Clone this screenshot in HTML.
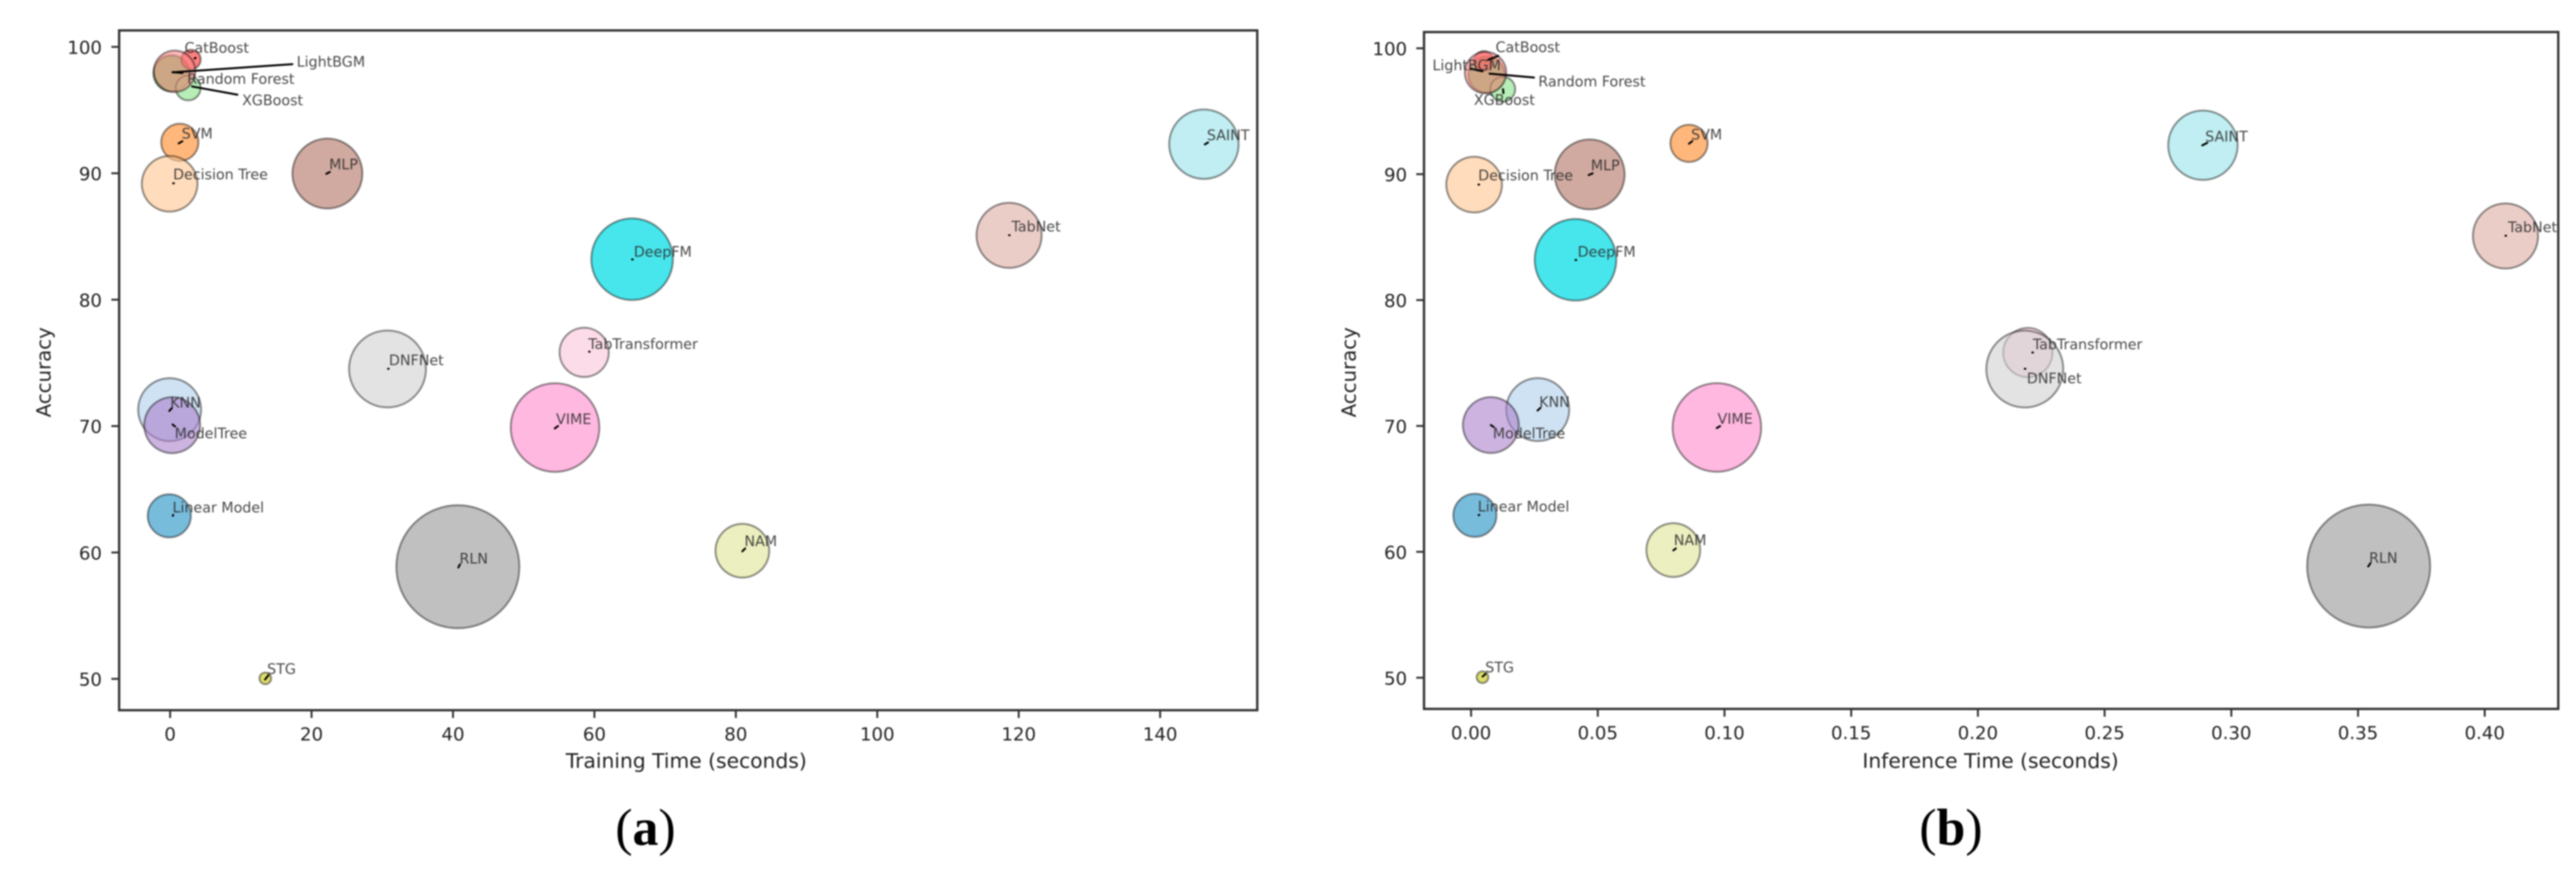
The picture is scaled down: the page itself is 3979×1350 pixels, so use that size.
<!DOCTYPE html>
<html lang="en">
<head>
<meta charset="utf-8">
<title>Accuracy vs training and inference time</title>
<style>
html,body{margin:0;padding:0;background:#fff;width:3979px;height:1350px;overflow:hidden}
svg{display:block;filter:blur(1.1px)}
text{font-family:"DejaVu Sans","Liberation Sans",sans-serif}
.caption{font-family:"Liberation Serif",serif;font-size:80px;fill:#000;text-anchor:middle}
</style>
</head>
<body>
<svg id="figure" xmlns="http://www.w3.org/2000/svg" width="3979" height="1350" viewBox="0 0 3979 1350">
<rect width="3979" height="1350" fill="#fff"/>
<g id="panel-a"></g>
<g id="panel-b"></g>
<text class="caption" x="997" y="1305">(<tspan font-weight="bold">a</tspan>)</text>
<text class="caption" x="3013.5" y="1305">(<tspan font-weight="bold">b</tspan>)</text>
</svg>
<script>
const models = ["Linear Model","KNN","SVM","Decision Tree","Random Forest","XGBoost","CatBoost","LightBGM","ModelTree","MLP","TabNet","VIME","TabTransformer","RLN","DNFNet","STG","NAM","DeepFM","SAINT"];
const accuracy = [62.9,71.3,92.45,89.17,97.9,96.75,99,98.07,70.07,89.98,85.09,69.88,75.83,58.87,74.52,50.04,60.14,83.2,92.3];
const trainingTime = [-0.12,-0.07,1.37,-0.07,0.2,2.55,2.95,0.63,0.29,22.24,118.64,54.43,58.55,40.69,30.74,13.46,80.92,65.33,146.19];
const inferenceTime = [0.0015,0.0263,0.086,0.0012,0.0061,0.0125,0.005,0.0057,0.0078,0.0468,0.4082,0.097,0.2197,0.3542,0.2185,0.0045,0.0798,0.0412,0.2888];
const bubbleSizes = [1109,2362,824,1849,784,369,225,1024,1866,2916,2530,4679,1444,9025,3528,81,1722,3969,2873];
const yTicks = [50,60,70,80,90,100];
const yTickLabels = ["50","60","70","80","90","100"];
const trainingTicks = [0,20,40,60,80,100,120,140];
const trainingTickLabels = ["0","20","40","60","80","100","120","140"];
const inferenceTicks = [0,0.05,0.1,0.15,0.2,0.25,0.3,0.35,0.4];
const inferenceTickLabels = ["0.00","0.05","0.10","0.15","0.20","0.25","0.30","0.35","0.40"];

const bubbleColors = ["rgba(30,143,197,0.6)","rgba(175,207,235,0.6)","rgba(255,135,35,0.6)","rgba(255,197,142,0.6)","rgba(44,180,44,0.6)","rgba(135,225,135,0.6)","rgba(255,43,43,0.6)","rgba(255,137,137,0.6)","rgba(170,128,203,0.6)","rgba(177,113,97,0.6)","rgba(222,172,164,0.6)","rgba(255,137,203,0.6)","rgba(250,197,217,0.6)","rgba(150,150,150,0.6)","rgba(208,208,208,0.6)","rgba(200,200,13,0.6)","rgba(223,228,148,0.6)","rgba(0,220,228,0.72)","rgba(150,227,233,0.6)"];

const labelOffsetsA = [[5,-5.4],[0.8,-3],[2.9,-5.7],[5.3,-6.7],[24.3,16.3],[83.3,26.7],[-10,-10.6],[188.6,-7.3],[3.8,20.4],[2.6,-6.6],[3.8,-5.9],[1.6,-5.6],[6.4,-5.4],[2.5,-5],[2.2,-5.9],[2.8,-6.9],[3.2,-6.9],[2.6,-3.9],[4.6,-6.2]];
const labelOffsetsB = [[4.5,-6],[2.3,-4],[3.2,-5.9],[6.3,-6.7],[80,18.3],[-44.6,24.3],[18.3,-13.3],[-82,-3.7],[3,20.5],[1.8,-6.3],[3.8,-6.1],[1,-5.6],[7.7,-4.9],[0.6,-4.9],[3.2,22.2],[4.2,-7.4],[0.7,-7.5],[3.3,-4.8],[3.5,-6]];
const leaderOffsetsA = [[5.5,0,6,-1.5],[-0.5,2,3.3,-2.2],[-1.8,1.7,3.9,-1.7],[5.5,-0.7,6.5,-0.7],[1.7,-2,16.7,-0.7],[6,-2.3,76,10.4],[5.7,-1.6,7,-2.6],[-3,1.7,182,-11],[0.6,-1,4.4,2],[-1.7,0.4,3.6,-2.3],[0,-0.3,0.8,-0.3],[-0.4,1.3,4.6,-2.4],[7.6,-1,8.4,-1],[0.7,1.1,3.2,-3.7],[0.9,-0.2,1.7,-0.2],[-0.4,1.7,4.7,-4.7],[0,0.9,4.3,-3.4],[0,0.3,1,0.3],[1.4,0.3,6.4,-2.7]];
const leaderOffsetsB = [[5.8,-0.2,6.8,-0.8],[-0.3,1.5,4.2,-2.7],[0,0.6,5,-3.4],[6.7,0,7.7,0],[4.7,-1.7,73.3,4.3],[0.4,0,1,6],[6.6,-1.7,22.3,-7.7],[-23,-6,-4.7,-2],[0,0,4.4,3],[-1.5,1,4.5,-1.7],[0,-0.4,0.9,-0.4],[-0.2,0.9,4.9,-2.1],[7,-0.1,8,-0.1],[-0.7,0.6,2.5,-4.1],[0,-0.4,1,-0.4],[0.2,-1,4.8,-5.2],[0,0.5,3.9,-2.5],[0.1,0.4,1.1,0.4],[-1,0.2,6.7,-3.7]];

const SVG_NS = "http://www.w3.org/2000/svg";
function linearScale(d0, d1, r0, r1) {
  return function (v) { return r0 + (v - d0) * (r1 - r0) / (d1 - d0); };
}
function radiusOf(size) { return Math.sqrt(size); }
function slug(s) { return s.toLowerCase().replace(/[^a-z0-9]+/g, "-"); }
function make(tag, parent, attrs) {
  const el = document.createElementNS(SVG_NS, tag);
  for (const k in attrs) el.setAttribute(k, attrs[k]);
  parent.appendChild(el);
  return el;
}

function drawPanel(p) {
  const root = document.getElementById(p.id);
  const xScale = linearScale(p.xDomain[0], p.xDomain[1], p.xRange[0], p.xRange[1]);
  const yScale = linearScale(50, 100, p.yRange[0], p.yRange[1]);

  p.xValues.forEach(function (xv, i) {
    const c = make("circle", root, {cx: xScale(xv), cy: yScale(accuracy[i]), r: radiusOf(bubbleSizes[i]), fill: bubbleColors[i], stroke: "#000", "stroke-opacity": 0.42, "stroke-width": 3});
    
    
  });

  p.xValues.forEach(function (xv, i) {
    const o = p.leaders[i];
    const cx = xScale(xv), cy = yScale(accuracy[i]);
    const l = make("line", root, {x1: cx + o[0], y1: cy + o[1], x2: cx + o[2], y2: cy + o[3], stroke: "#000", "stroke-width": 3, "stroke-linecap": "round"});
    
    
  });

  p.xValues.forEach(function (xv, i) {
    const o = p.labels[i];
    const t = make("text", root, {x: xScale(xv) + o[0], y: yScale(accuracy[i]) + o[1], "font-size": 22, fill: "#2a2a2a", "fill-opacity": 0.85});
    t.textContent = models[i];
    
    
  });

  const frame = make("rect", root, {x: p.frame[0], y: p.frame[1], width: p.frame[2] - p.frame[0], height: p.frame[3] - p.frame[1], fill: "none", stroke: "#333", "stroke-width": 3.6});
  
  

  yTicks.forEach(function (v, i) {
    const y = yScale(v);
    const tick = make("line", root, {x1: p.frame[0] - 12, x2: p.frame[0], y1: y, y2: y, stroke: "#333", "stroke-width": 3});
    
    
    const t = make("text", root, {x: p.yLabelRight, y: y + 10.5, "font-size": 28, fill: "#222", "text-anchor": "end"});
    t.textContent = yTickLabels[i];
    
    
  });

  p.xTicks.forEach(function (v, i) {
    const x = xScale(v);
    const tick = make("line", root, {x1: x, x2: x, y1: p.frame[3], y2: p.frame[3] + 12, stroke: "#333", "stroke-width": 3});
    
    
    const t = make("text", root, {x: x, y: p.xLabelBase, "font-size": 28, fill: "#222", "text-anchor": "middle"});
    t.textContent = p.xTickLabels[i];
    
    
  });

  const xt = make("text", root, {x: p.xTitleX, y: 1186, "font-size": 31.3, fill: "#222", "text-anchor": "middle"});
  xt.textContent = p.xTitle;
  
  

  const yt = make("text", root, {transform: "translate(" + p.yTitleX + ",575) rotate(-90)", "font-size": 30.5, fill: "#222", "text-anchor": "middle"});
  yt.textContent = "Accuracy";
  
  
}

drawPanel({
  id: "panel-a", xValues: trainingTime, xTicks: trainingTicks, xTickLabels: trainingTickLabels,
  xDomain: [0, 140], xRange: [262.8, 1792], yRange: [1048.6, 72.4],
  frame: [184, 47, 1942, 1097], yLabelRight: 157.5, xLabelBase: 1143.5,
  labels: labelOffsetsA, leaders: leaderOffsetsA,
  xTitle: "Training Time (seconds)", xTitleX: 1060, yTitleX: 78
});
drawPanel({
  id: "panel-b", xValues: inferenceTime, xTicks: inferenceTicks, xTickLabels: inferenceTickLabels,
  xDomain: [0, 0.4], xRange: [2272.3, 3838], yRange: [1046.8, 74.6],
  frame: [2199.6, 49.5, 3951.6, 1095], yLabelRight: 2173.5, xLabelBase: 1141.5,
  labels: labelOffsetsB, leaders: leaderOffsetsB,
  xTitle: "Inference Time (seconds)", xTitleX: 3074.7, yTitleX: 2094
});
</script>
</body>
</html>
